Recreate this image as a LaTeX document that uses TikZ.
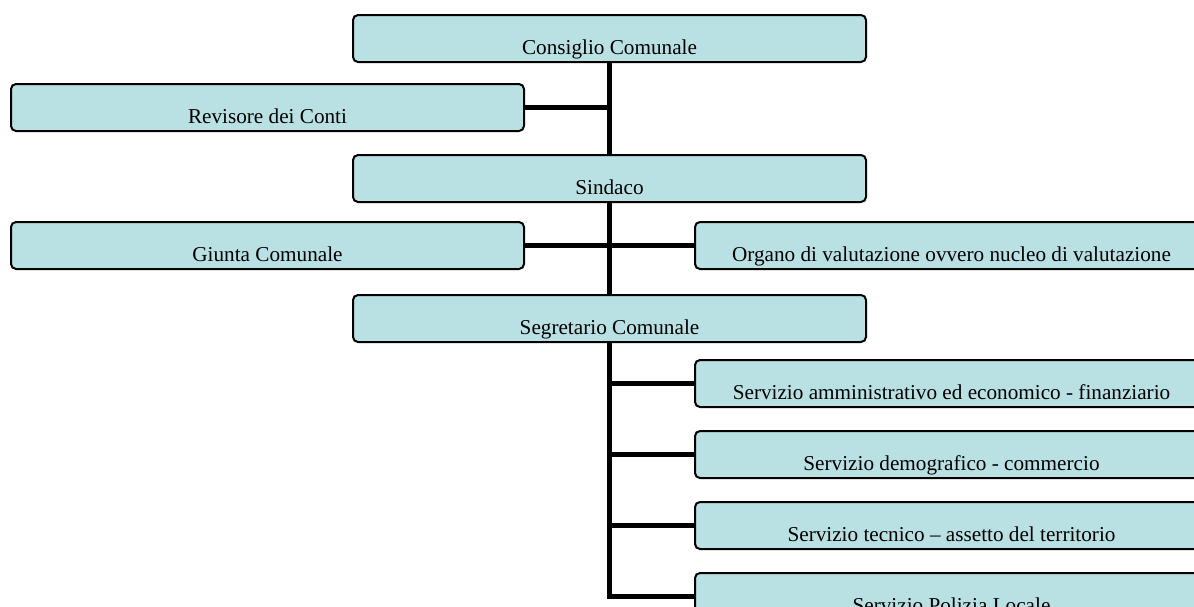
\documentclass[tikz,border=0pt]{standalone}
\usepackage{fontspec}
\setmainfont{Liberation Serif}
\usetikzlibrary{positioning}

\definecolor{boxfill}{RGB}{185,224,227}

\begin{document}
\begin{tikzpicture}[
    x=0.5pt, y=-0.5pt,
    node distance=11pt,
    unit/.style={rectangle, rounded corners=2.5pt, minimum width=256.5pt, inner sep=0pt, text height=19.5pt, text depth=4pt, draw=black, line width=1pt, fill=boxfill, font=\fontsize{10.6}{12}\selectfont},
    sideunit/.style={unit, anchor=west},
    link/.style={line width=2.5pt}
]
\useasboundingbox (0,0) rectangle (1194,606);
\clip (0,0) rectangle (1194,606);

\node (cc) [unit] at (609.5,38.5) {Consiglio Comunale};
\node (sin) [unit, below=45.5pt of cc] {Sindaco};
\node (seg) [unit, below=45.5pt of sin] {Segretario Comunale};
\node (rev) [unit] at (267.5,107.5) {Revisore dei Conti};
\node (giu) [unit] at (267.5,245.5) {Giunta Comunale};
\node (org) [sideunit] at (694,245.5) {Organo di valutazione ovvero nucleo di valutazione};
\node (amm) [sideunit] at (694,383.5) {Servizio amministrativo ed economico - finanziario};
\node (dem) [sideunit, below=11pt of amm.south west, anchor=north west] {Servizio demografico - commercio};
\node (tec) [sideunit, below=11pt of dem.south west, anchor=north west] {Servizio tecnico -- assetto del territorio};
\node (pol) [sideunit, below=11pt of tec.south west, anchor=north west] {Servizio Polizia Locale};

\draw [link] (cc) -- (sin);
\draw [link] (sin) -- (seg);
\draw [link] (rev.east) -- (rev.east -| cc.south);
\draw [link] (giu) -- (org);
\draw [link] (seg.south) |- (pol.west);
\draw [link] (amm.west) -- (amm.west -| seg.south);
\draw [link] (dem.west) -- (dem.west -| seg.south);
\draw [link] (tec.west) -- (tec.west -| seg.south);

\end{tikzpicture}
\end{document}
